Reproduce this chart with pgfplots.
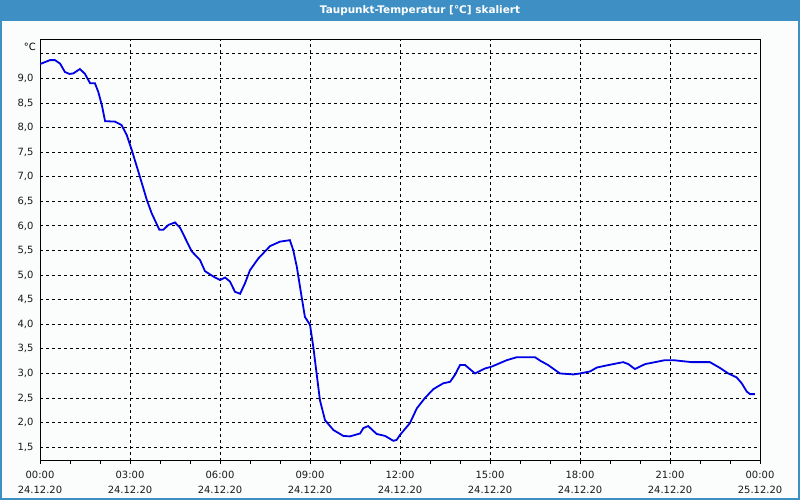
\documentclass[border=0pt]{standalone}
\usepackage{fontspec}
\setmainfont{DejaVu Sans}
\usepackage{pgfplots}
\pgfplotsset{compat=1.18}
\definecolor{barblue}{RGB}{61,143,196}
\definecolor{lineblue}{RGB}{0,0,228}
\definecolor{bgc}{RGB}{251,253,253}
\begin{document}
\begin{tikzpicture}[x=1bp,y=1bp]
\fill[bgc] (0,0) rectangle (800,500);
\fill[barblue] (0,479) rectangle (800,500);
\draw[barblue, line width=2bp] (1,479) -- (1,1) -- (799,1) -- (799,479);
\node[text=white, font=\bfseries\fontsize{10.5}{12}\selectfont] at (420,489.5) {Taupunkt-Temperatur [°C] skaliert};
\node[font=\fontsize{10}{12}\selectfont, anchor=east, inner sep=0pt] at (36,453.5) {°C};
\begin{axis}[
  at={(40bp,39bp)}, anchor=south west,
  scale only axis, width=720bp, height=421bp,
  xmin=0, xmax=24, ymin=1.22, ymax=9.78,
  xtick={0,3,6,9,12,15,18,21,24},
  xticklabels={{00:00\\24.12.20},{03:00\\24.12.20},{06:00\\24.12.20},{09:00\\24.12.20},{12:00\\24.12.20},{15:00\\24.12.20},{18:00\\24.12.20},{21:00\\24.12.20},{00:00\\25.12.20}},
  minor xtick={1,2,4,5,7,8,10,11,13,14,16,17,19,20,22,23},
  ytick={1.5,2,2.5,3,3.5,4,4.5,5,5.5,6,6.5,7,7.5,8,8.5,9,9.5},
  yticklabels={{1,5},{2,0},{2,5},{3,0},{3,5},{4,0},{4,5},{5,0},{5,5},{6,0},{6,5},{7,0},{7,5},{8,0},{8,5},{9,0},{}},
  tick align=outside,
  xtick pos=bottom, ytick pos=left,
  major tick length=3bp, minor tick length=3bp,
  tick style={black, line width=0.8bp},
  ytick style={draw=none},
  grid=major,
  major grid style={black, line width=0.8bp, dash pattern=on 3bp off 3bp},
  axis line style={black, line width=1bp},
  xticklabel style={align=center, font=\fontsize{10}{15}\selectfont, text=black!90, yshift=-4bp},
  yticklabel style={font=\fontsize{10}{12}\selectfont, text=black!90},
]
\addplot[lineblue, line width=1.8bp] coordinates {
(0.00,9.29) (0.33,9.37) (0.50,9.37) (0.67,9.30) (0.83,9.13) (0.98,9.09) (1.11,9.10) (1.33,9.19) (1.50,9.09) (1.67,8.90) (1.83,8.90) (1.94,8.73) (2.06,8.46) (2.17,8.13) (2.50,8.12) (2.72,8.05) (2.89,7.85) (3.06,7.54) (3.33,7.00) (3.56,6.53) (3.72,6.26) (3.98,5.92) (4.11,5.92) (4.28,6.02) (4.50,6.07) (4.67,5.96) (5.06,5.48) (5.33,5.31) (5.50,5.08) (5.78,4.97) (6.00,4.90) (6.17,4.95) (6.33,4.87) (6.50,4.66) (6.67,4.62) (6.83,4.83) (7.00,5.10) (7.28,5.34) (7.67,5.59) (8.00,5.68) (8.33,5.71) (8.44,5.51) (8.56,5.17) (8.72,4.56) (8.83,4.15) (9.00,3.99) (9.11,3.54) (9.22,3.00) (9.33,2.46) (9.50,2.05) (9.78,1.85) (10.11,1.73) (10.33,1.72) (10.67,1.78) (10.78,1.89) (10.94,1.93) (11.22,1.77) (11.50,1.73) (11.78,1.63) (11.89,1.65) (12.00,1.75) (12.33,1.99) (12.56,2.29) (12.83,2.50) (13.11,2.68) (13.44,2.80) (13.67,2.83) (13.83,2.97) (14.00,3.17) (14.17,3.17) (14.50,3.00) (14.83,3.10) (15.06,3.14) (15.33,3.21) (15.56,3.27) (15.89,3.33) (16.50,3.33) (16.67,3.26) (16.94,3.17) (17.33,3.00) (17.78,2.98) (18.00,3.00) (18.33,3.04) (18.56,3.12) (18.94,3.17) (19.44,3.23) (19.61,3.19) (19.83,3.09) (20.17,3.19) (20.50,3.23) (20.83,3.27) (21.11,3.27) (21.72,3.23) (22.33,3.23) (22.67,3.11) (22.94,3.00) (23.22,2.92) (23.39,2.80) (23.56,2.63) (23.67,2.58) (23.83,2.58)
};
\end{axis}
\end{tikzpicture}
\end{document}
